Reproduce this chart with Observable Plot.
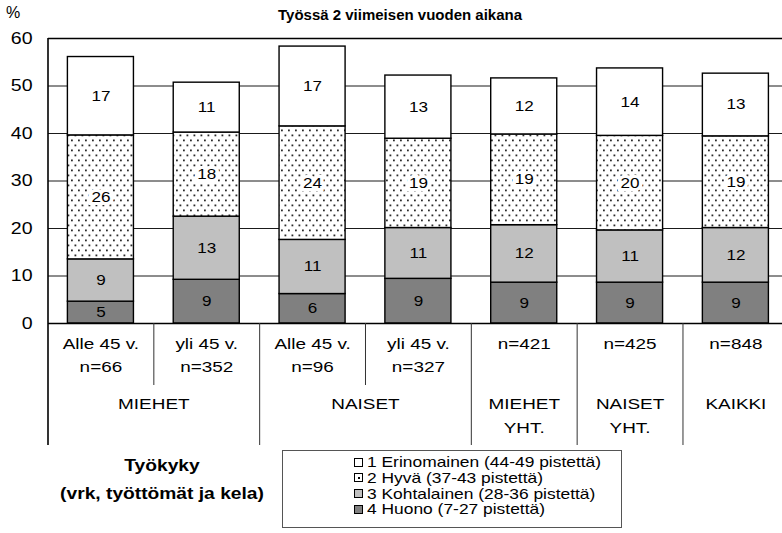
<!DOCTYPE html>
<html><head><meta charset="utf-8">
<script src="https://cdn.jsdelivr.net/npm/d3@7"></script>
<script src="https://cdn.jsdelivr.net/npm/@observablehq/plot@0.6"></script>
<style>
html,body{margin:0;padding:0;background:#fff;}
body{width:782px;height:533px;overflow:hidden;font-family:"Liberation Sans",Arial,sans-serif;color:#000;}
#head{position:relative;height:28px;}
#pct{position:absolute;left:6px;top:5px;font-size:16px;line-height:16px;}
#title{position:absolute;left:0;width:800px;top:6px;text-align:center;font-weight:bold;font-size:15px;line-height:18px;}
#chart svg{display:block;}
#legend{position:relative;height:85px;}
.lt{position:absolute;left:0;width:324px;text-align:center;font-weight:bold;font-size:16px;line-height:20px;transform:scaleX(1.2);transform-origin:162px 50%;}
#lbox{position:absolute;left:282px;top:2px;width:340px;height:78px;border:1px solid #555;box-sizing:border-box;padding-top:4px;}
.li{height:15.8px;line-height:15.8px;padding-left:71px;font-size:14.5px;white-space:nowrap;}
.sw{display:inline-block;width:7px;height:7px;border:1px solid #000;vertical-align:middle;margin-right:4px;position:relative;top:-1px;}
.sw i{position:absolute;left:2.5px;top:2.5px;width:2px;height:2px;background:#000;}
.li .tx{display:inline-block;transform:scaleX(1.2);transform-origin:0 50%;}
</style></head><body>
<div id="head"><div id="pct">%</div><div id="title">Työssä 2 viimeisen vuoden aikana</div></div>
<div id="chart"></div>
<div id="legend"></div>
<script>
// ---- data ----
const keys = ["miehet_alle45", "miehet_yli45", "naiset_alle45", "naiset_yli45", "miehet_yht", "naiset_yht", "kaikki"];
const levels = ["4 Huono (7-27 pistettä)", "3 Kohtalainen (28-36 pistettä)", "2 Hyvä (37-43 pistettä)", "1 Erinomainen (44-49 pistettä)"];
const huono       = [4.6, 9.2, 6.2, 9.4, 8.6, 8.6, 8.6];
const kohtalainen = [8.9, 13.3, 11.4, 10.7, 12.1, 11.0, 11.5];
const hyva        = [26.1, 17.7, 23.9, 18.8, 19.1, 19.9, 19.3];
const erinomainen = [16.5, 10.5, 16.8, 13.3, 11.8, 14.2, 13.2];
const row1 = ["Alle 45 v.", "yli 45 v.", "Alle 45 v.", "yli 45 v.", "n=421", "n=425", "n=848"];
const row2 = ["n=66", "n=352", "n=96", "n=327", "", "", ""];
const groupNames = ["MIEHET", "NAISET", "MIEHET", "NAISET", "KAIKKI"];
const groupSub = ["", "", "YHT.", "YHT.", ""];
const groupSize = [2, 2, 1, 1, 1];
const yTicks = [0, 10, 20, 30, 40, 50, 60];
const legendTitle = ["Työkyky", "(vrk, työttömät ja kela)"];

// ---- styles ----
const FILL = {};
FILL[levels[0]] = "#808080";
FILL[levels[1]] = "#c0c0c0";
FILL[levels[2]] = "url(#dots)";
FILL[levels[3]] = "#ffffff";
const STRETCH = 1.22;
const X0 = 47.5, X1 = 788.3;
const STEP = (X1 - X0) / keys.length;

// ---- derived tables ----
const series = [huono, kohtalainen, hyva, erinomainen];
const rows = [];
keys.forEach((k, i) => series.forEach((s, j) => rows.push({key: k, level: levels[j], value: s[i]})));
const groups = [];
let start = 0;
groupNames.forEach((name, g) => { groups.push({name, sub: groupSub[g], size: groupSize[g], key: keys[start], start}); start += groupSize[g]; });
const longSep = groups.slice(1).map(g => g.key);
const shortSep = groups.filter(g => g.size > 1).flatMap(g => d3.range(1, g.size).map(o => keys[g.start + o]));

const FS = 15.5;
const svg = Plot.plot({
  width: 782, height: 420,
  marginTop: 10, marginBottom: 125, marginLeft: 48, marginRight: 0,
  x: {domain: keys, range: [X0, X1], paddingInner: 0.376, paddingOuter: 0.188, round: false, axis: null},
  y: {domain: [0, 60], ticks: yTicks, tickSize: 0, tickPadding: 16, label: null},
  color: {type: "identity"},
  style: {fontFamily: "Liberation Sans, Arial, sans-serif", fontSize: "16px", background: "white", color: "black", overflow: "visible"},
  marks: [
    Plot.ruleY(yTicks.slice(1, -1), {stroke: "#000", strokeWidth: 0.9}),
    Plot.barY(rows, Plot.stackY({x: "key", y: "value", fill: d => FILL[d.level], stroke: "#000", strokeWidth: 1.4})),
    Plot.ruleY([yTicks[0], yTicks[yTicks.length - 1]], {stroke: "#000", strokeWidth: 1.6}),
    Plot.ruleX([keys[0]], {x: d => d, y1: () => 60, y2: () => 0, dx: -STEP / 2, insetBottom: -122, stroke: "#000", strokeWidth: 1.6}),
    Plot.ruleX(shortSep, {x: d => d, y1: () => 0, y2: () => 0, dx: -STEP / 2, insetBottom: -62, stroke: "#333", strokeWidth: 1}),
    Plot.ruleX(longSep, {x: d => d, y1: () => 0, y2: () => 0, dx: -STEP / 2, insetBottom: -122, stroke: "#333", strokeWidth: 1}),
    Plot.text(rows, Plot.stackY({x: "key", y: "value", text: d => String(Math.round(d.value)), fontSize: 14, fill: "#000",
      stroke: d => d.level === levels[2] ? "white" : "none", strokeWidth: 6, strokeLinejoin: "miter", paintOrder: "stroke"})),
    Plot.text(keys, {x: d => d, text: (d, i) => row1[i], frameAnchor: "bottom", dy: 25, fontSize: FS}),
    Plot.text(keys, {x: d => d, text: (d, i) => row2[i], frameAnchor: "bottom", dy: 48, fontSize: FS}),
    Plot.text(groups.filter(g => g.size === 2), {x: "key", text: "name", frameAnchor: "bottom", dy: 85, dx: STEP / 2, fontSize: FS}),
    Plot.text(groups.filter(g => g.size === 1), {x: "key", text: "name", frameAnchor: "bottom", dy: 85, fontSize: FS}),
    Plot.text(groups.filter(g => g.sub), {x: "key", text: "sub", frameAnchor: "bottom", dy: 109, fontSize: FS})
  ]
});

// dotted pattern
const NS = "http://www.w3.org/2000/svg";
const defs = document.createElementNS(NS, "defs");
const pat = document.createElementNS(NS, "pattern");
pat.setAttribute("id", "dots"); pat.setAttribute("width", "7"); pat.setAttribute("height", "10");
pat.setAttribute("patternUnits", "userSpaceOnUse");
const mk = (x, y, w, h, f) => { const r = document.createElementNS(NS, "rect"); r.setAttribute("x", x); r.setAttribute("y", y); r.setAttribute("width", w); r.setAttribute("height", h); r.setAttribute("fill", f); pat.appendChild(r); };
mk(0, 0, 7, 10, "#fff");
mk(1, 1.5, 1.8, 1.8, "#2a2a2a");
mk(4.5, 6.5, 1.8, 1.8, "#2a2a2a");
defs.appendChild(pat);
svg.insertBefore(defs, svg.firstChild);

document.getElementById("chart").append(svg);
for (const t of svg.querySelectorAll("text")) {
  const L = t.getComputedTextLength();
  if (L > 0) { t.setAttribute("textLength", (L * STRETCH).toFixed(2)); t.setAttribute("lengthAdjust", "spacingAndGlyphs"); }
}

// legend
const lg = document.getElementById("legend");
legendTitle.forEach((s, i) => { const d = document.createElement("div"); d.className = "lt"; d.style.top = (i === 0 ? 8 : 36) + "px"; d.textContent = s; lg.append(d); });
const box = document.createElement("div"); box.id = "lbox"; lg.append(box);
levels.slice().reverse().forEach(lv => {
  const row = document.createElement("div"); row.className = "li";
  const sw = document.createElement("span"); sw.className = "sw";
  sw.style.background = lv === levels[2] ? "#fff" : FILL[lv];
  if (lv === levels[2]) sw.appendChild(document.createElement("i"));
  const tx = document.createElement("span"); tx.className = "tx"; tx.textContent = lv;
  row.append(sw, tx); box.append(row);
});
</script>
</body></html>
